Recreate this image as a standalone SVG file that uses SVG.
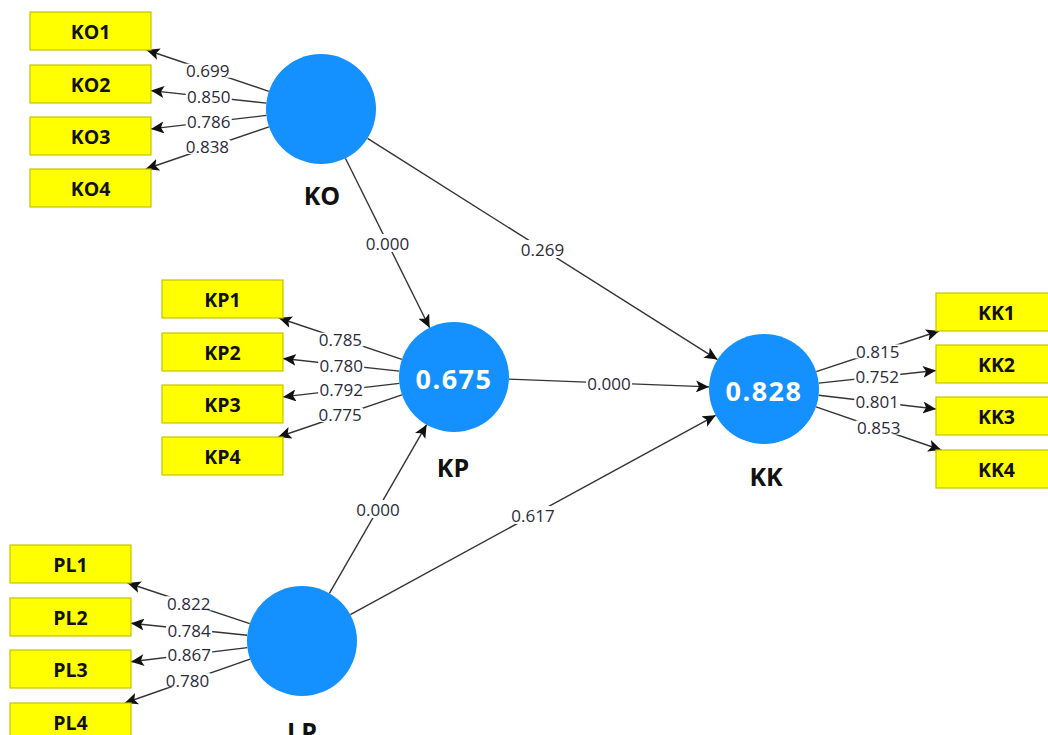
<svg xmlns="http://www.w3.org/2000/svg" width="1048" height="735" viewBox="0 0 1048 735">
<style>
.bx{fill:#ffff00;stroke:#c4c400;stroke-width:1.2}
.bt{font-family:"Open Sans","DejaVu Sans",sans-serif;font-weight:bold;font-size:19.5px;fill:#111;text-anchor:middle;dominant-baseline:central}
.cc{fill:#1591ff}
.cl{font-family:"Open Sans","DejaVu Sans",sans-serif;font-weight:bold;font-size:25px;fill:#111;text-anchor:middle;dominant-baseline:central}
.cv{font-family:"Open Sans","DejaVu Sans",sans-serif;font-weight:bold;font-size:27px;fill:#fff;text-anchor:middle;dominant-baseline:central;letter-spacing:1.5px}
.ln{stroke:#333;stroke-width:1.4;fill:none;marker-end:url(#ah)}
.lb{fill:#fff}
.lt{font-family:"Open Sans","DejaVu Sans",sans-serif;font-size:17px;fill:#2a2a3a;text-anchor:middle;dominant-baseline:central}
</style>
<defs>
<marker id="ah" markerUnits="userSpaceOnUse" markerWidth="14" markerHeight="12" refX="13" refY="6" orient="auto">
<path d="M0,0 L13,6 L0,12 L3,6 z" fill="#111"/>
</marker>
</defs>
<rect width="1048" height="735" fill="#fff"/>
<g id="connectors">
<line class="ln" x1="268.9" y1="91.4" x2="146.6" y2="50"/>
<line class="ln" x1="266.3" y1="103.1" x2="151" y2="90.6"/>
<line class="ln" x1="266.4" y1="115.4" x2="151" y2="128.9"/>
<line class="ln" x1="269" y1="126.8" x2="145.9" y2="169"/>
<line class="ln" x1="401.9" y1="359.4" x2="278.9" y2="318"/>
<line class="ln" x1="399.3" y1="371.1" x2="283" y2="358.5"/>
<line class="ln" x1="399.4" y1="383.4" x2="283" y2="396.9"/>
<line class="ln" x1="401.9" y1="394.8" x2="278.2" y2="437"/>
<line class="ln" x1="249.8" y1="623.6" x2="127.6" y2="583"/>
<line class="ln" x1="247.3" y1="635.3" x2="131" y2="623.3"/>
<line class="ln" x1="247.4" y1="647.6" x2="131" y2="661.7"/>
<line class="ln" x1="250.1" y1="659.2" x2="124.8" y2="703"/>
<line class="ln" x1="816.2" y1="371.7" x2="939.1" y2="331"/>
<line class="ln" x1="818.7" y1="383.1" x2="936" y2="370.5"/>
<line class="ln" x1="818.6" y1="395.3" x2="936" y2="409"/>
<line class="ln" x1="816" y1="406.9" x2="941.3" y2="450"/>
<line class="ln" x1="345.4" y1="158.3" x2="429.6" y2="327.7"/>
<line class="ln" x1="367.5" y1="138.4" x2="717.5" y2="359.6"/>
<line class="ln" x1="509" y1="379.1" x2="709" y2="386.9"/>
<line class="ln" x1="329.4" y1="593.3" x2="426.6" y2="424.7"/>
<line class="ln" x1="350.3" y1="614.7" x2="715.7" y2="415.3"/>
<g id="labels">
<rect class="lb" x="184.7" y="63.7" width="46" height="14"/><text class="lt" x="207.7" y="70.7">0.699</text>
<rect class="lb" x="185.7" y="89.9" width="46" height="14"/><text class="lt" x="208.7" y="96.9">0.850</text>
<rect class="lb" x="185.7" y="114.2" width="46" height="14"/><text class="lt" x="208.7" y="121.2">0.786</text>
<rect class="lb" x="184.4" y="139.9" width="46" height="14"/><text class="lt" x="207.4" y="146.9">0.838</text>
<rect class="lb" x="317.4" y="332.7" width="46" height="14"/><text class="lt" x="340.4" y="339.7">0.785</text>
<rect class="lb" x="318.2" y="358.8" width="46" height="14"/><text class="lt" x="341.2" y="365.8">0.780</text>
<rect class="lb" x="318.2" y="382.2" width="46" height="14"/><text class="lt" x="341.2" y="389.2">0.792</text>
<rect class="lb" x="317.1" y="407.9" width="46" height="14"/><text class="lt" x="340.1" y="414.9">0.775</text>
<rect class="lb" x="165.7" y="596.3" width="46" height="14"/><text class="lt" x="188.7" y="603.3">0.822</text>
<rect class="lb" x="166.1" y="623.3" width="46" height="14"/><text class="lt" x="189.1" y="630.3">0.784</text>
<rect class="lb" x="166.2" y="647.6" width="46" height="14"/><text class="lt" x="189.2" y="654.6">0.867</text>
<rect class="lb" x="164.5" y="673.1" width="46" height="14"/><text class="lt" x="187.5" y="680.1">0.780</text>
<rect class="lb" x="854.7" y="344.4" width="46" height="14"/><text class="lt" x="877.7" y="351.4">0.815</text>
<rect class="lb" x="854.3" y="369.8" width="46" height="14"/><text class="lt" x="877.3" y="376.8">0.752</text>
<rect class="lb" x="854.3" y="394.2" width="46" height="14"/><text class="lt" x="877.3" y="401.2">0.801</text>
<rect class="lb" x="855.7" y="420.5" width="46" height="14"/><text class="lt" x="878.7" y="427.5">0.853</text>
<rect class="lb" x="364.5" y="234" width="46" height="18"/><text class="lt" x="387.5" y="243">0.000</text>
<rect class="lb" x="519.5" y="240" width="46" height="18"/><text class="lt" x="542.5" y="249">0.269</text>
<rect class="lb" x="586" y="374" width="46" height="18"/><text class="lt" x="609" y="383">0.000</text>
<rect class="lb" x="355" y="500" width="46" height="18"/><text class="lt" x="378" y="509">0.000</text>
<rect class="lb" x="510" y="506" width="46" height="18"/><text class="lt" x="533" y="515">0.617</text>
</g>
</g>
<g id="KO">
<circle class="cc" cx="321" cy="109" r="55"/>
<text class="cl" x="322" y="195">KO</text>
</g>
<g id="KP">
<circle class="cc" cx="454" cy="377" r="55"/>
<text class="cv" x="454" y="378">0.675</text>
<text class="cl" x="453" y="467">KP</text>
</g>
<g id="KK">
<circle class="cc" cx="764" cy="389" r="55"/>
<text class="cv" x="764" y="390">0.828</text>
<text class="cl" x="766" y="476">KK</text>
</g>
<g id="LP">
<circle class="cc" cx="302" cy="641" r="55"/>
<text class="cl" x="302" y="731">LP</text>
</g>
<g id="KO1"><rect class="bx" x="30" y="12" width="121" height="38"/><text class="bt" x="90.5" y="31">KO1</text></g>
<g id="KO2"><rect class="bx" x="30" y="65" width="121" height="38"/><text class="bt" x="90.5" y="84">KO2</text></g>
<g id="KO3"><rect class="bx" x="30" y="117" width="121" height="38"/><text class="bt" x="90.5" y="136">KO3</text></g>
<g id="KO4"><rect class="bx" x="30" y="169" width="121" height="38"/><text class="bt" x="90.5" y="188">KO4</text></g>
<g id="KP1"><rect class="bx" x="162" y="280" width="121" height="38"/><text class="bt" x="222.5" y="299">KP1</text></g>
<g id="KP2"><rect class="bx" x="162" y="333" width="121" height="38"/><text class="bt" x="222.5" y="352">KP2</text></g>
<g id="KP3"><rect class="bx" x="162" y="385" width="121" height="38"/><text class="bt" x="222.5" y="404">KP3</text></g>
<g id="KP4"><rect class="bx" x="162" y="437" width="121" height="38"/><text class="bt" x="222.5" y="456">KP4</text></g>
<g id="PL1"><rect class="bx" x="10" y="545" width="121" height="38"/><text class="bt" x="70.5" y="564">PL1</text></g>
<g id="PL2"><rect class="bx" x="10" y="598" width="121" height="38"/><text class="bt" x="70.5" y="617">PL2</text></g>
<g id="PL3"><rect class="bx" x="10" y="650" width="121" height="38"/><text class="bt" x="70.5" y="669">PL3</text></g>
<g id="PL4"><rect class="bx" x="10" y="703" width="121" height="38"/><text class="bt" x="70.5" y="722">PL4</text></g>
<g id="KK1"><rect class="bx" x="936" y="293" width="121" height="38"/><text class="bt" x="996.5" y="312">KK1</text></g>
<g id="KK2"><rect class="bx" x="936" y="345" width="121" height="38"/><text class="bt" x="996.5" y="364">KK2</text></g>
<g id="KK3"><rect class="bx" x="936" y="397" width="121" height="38"/><text class="bt" x="996.5" y="416">KK3</text></g>
<g id="KK4"><rect class="bx" x="936" y="450" width="121" height="38"/><text class="bt" x="996.5" y="469">KK4</text></g>
</svg>
